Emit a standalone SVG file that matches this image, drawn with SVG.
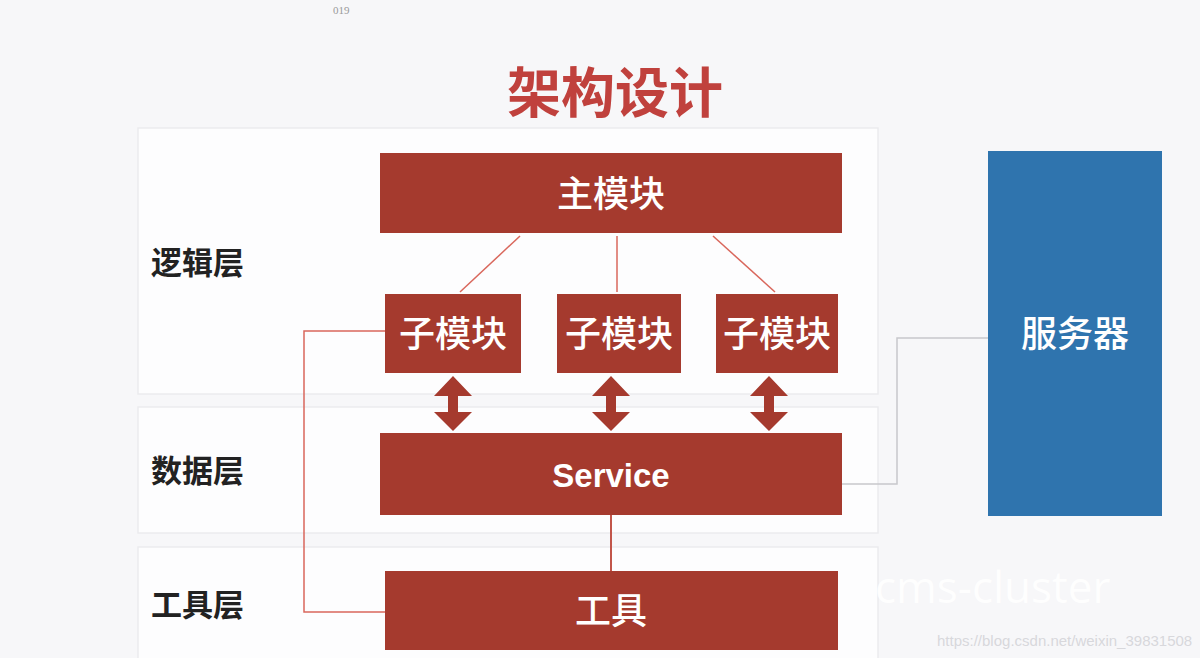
<svg xmlns="http://www.w3.org/2000/svg" width="1200" height="658" viewBox="0 0 1200 658">
<style>
.layer{fill:#fdfdfe;stroke:#ebebee;stroke-width:1.5}
.red{fill:#a53a2e}
.t{font-family:"Noto Sans CJK SC","Noto Sans",sans-serif;font-weight:500;fill:#fff;text-anchor:middle}
.lbl{font-family:"Noto Sans CJK SC",sans-serif;font-weight:bold;fill:#222;font-size:31px}
.rl{stroke:#d9675c;stroke-width:1.5;fill:none}
</style>
<rect width="1200" height="658" fill="#f7f7f9"/>
<text x="333" y="14" font-family="Liberation Serif,serif" font-size="11" fill="#999">019</text>
<text x="615" y="113" font-family="Noto Sans CJK SC,sans-serif" font-weight="bold" font-size="54" fill="#c0413d" text-anchor="middle">架构设计</text>
<g id="layers">
<rect class="layer" x="138" y="128" width="740" height="266"/>
<rect class="layer" x="138" y="407" width="740" height="126"/>
<rect class="layer" x="138" y="547" width="740" height="120"/>
<text class="lbl" x="151" y="274">逻辑层</text>
<text class="lbl" x="151" y="482">数据层</text>
<text class="lbl" x="151" y="616">工具层</text>
</g>
<g id="connectors">
<line class="rl" x1="520" y1="236" x2="460" y2="292"/>
<line class="rl" x1="617" y1="236" x2="617" y2="292"/>
<line class="rl" x1="713" y1="236" x2="775" y2="292"/>
<polyline class="rl" points="385,331 304,331 304,612 385,612"/>
<line x1="611" y1="515" x2="611" y2="571" stroke="#c2554a" stroke-width="2"/>
<polyline points="842,484 897,484 897,338 988,338" fill="none" stroke="#c8c8cc" stroke-width="1.5"/>
<g class="red">
<polygon points="453,376 472,396 458,396 458,412 472,412 453,431 434,412 448,412 448,396 434,396"/>
<polygon points="611,376 630,396 616,396 616,412 630,412 611,431 592,412 606,412 606,396 592,396"/>
<polygon points="769,376 788,396 774,396 774,412 788,412 769,431 750,412 764,412 764,396 750,396"/>
</g>
</g>
<g id="main"><rect class="red" x="380" y="153" width="462" height="80"/><text class="t" x="611" y="207" font-size="36">主模块</text></g>
<g id="sub1"><rect class="red" x="385" y="294" width="136" height="79"/><text class="t" x="453" y="347" font-size="36">子模块</text></g>
<g id="sub2"><rect class="red" x="557" y="294" width="124" height="79"/><text class="t" x="619" y="347" font-size="36">子模块</text></g>
<g id="sub3"><rect class="red" x="716" y="294" width="122" height="79"/><text class="t" x="777" y="347" font-size="36">子模块</text></g>
<g id="service"><rect class="red" x="380" y="433" width="462" height="82"/><text class="t" x="611" y="487" style="font-family:'Liberation Sans',sans-serif;font-weight:bold;font-size:33px">Service</text></g>
<g id="tool"><rect class="red" x="385" y="571" width="453" height="79"/><text class="t" x="611" y="624" font-size="36">工具</text></g>
<g id="server"><rect x="988" y="151" width="174" height="365" fill="#2f74ae"/><text class="t" x="1075" y="347" font-size="36">服务器</text></g>
<text x="875" y="603" font-family="Open Sans,sans-serif" font-size="44" fill="#ffffff" opacity="0.9">cms-cluster</text>
<text x="937" y="646" font-family="Liberation Sans,sans-serif" font-size="15" fill="#d8d8dc">https://blog.csdn.net/weixin_39831508</text>
</svg>
